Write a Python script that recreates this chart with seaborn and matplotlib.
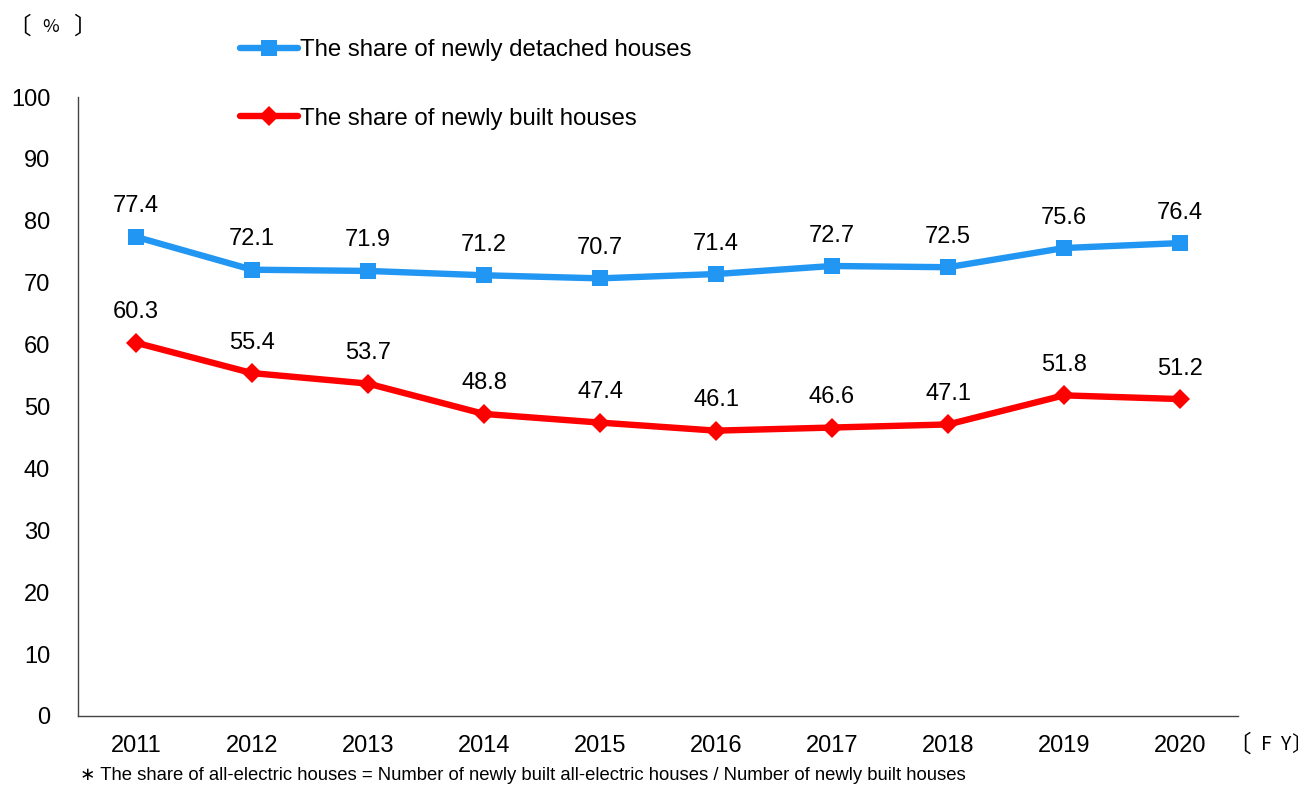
import matplotlib
matplotlib.use("Agg")
import matplotlib.pyplot as plt
import seaborn as sns
import pandas as pd
import numpy as np

years = ["2011", "2012", "2013", "2014", "2015", "2016", "2017", "2018", "2019", "2020"]
detached = [77.4, 72.1, 71.9, 71.2, 70.7, 71.4, 72.7, 72.5, 75.6, 76.4]
built = [60.3, 55.4, 53.7, 48.8, 47.4, 46.1, 46.6, 47.1, 51.8, 51.2]
label_detached = "The share of newly detached houses"
label_built = "The share of newly built houses"
y_ticks = [0, 10, 20, 30, 40, 50, 60, 70, 80, 90, 100]

sns.set_style("white")
plt.rcParams["font.family"] = ["Liberation Sans", "DejaVu Sans"]
plt.rcParams["text.color"] = "black"
plt.rcParams["xtick.color"] = "black"
plt.rcParams["ytick.color"] = "black"

df = pd.DataFrame({"year": years, "pos": np.arange(len(years)),
                   "detached": detached, "built": built})

fig = plt.figure(figsize=(13.12, 7.85), dpi=100)
ax = fig.add_axes([78 / 1312, 1 - 716 / 785, 1160 / 1312, 619 / 785])

blue = "#2196F3"
red = "#FF0000"
sns.lineplot(data=df, x="pos", y="detached", ax=ax, color=blue, lw=4.6,
             marker="s", markersize=12, markeredgewidth=0, label=label_detached)
sns.lineplot(data=df, x="pos", y="built", ax=ax, color=red, lw=4.6,
             marker="D", markersize=10, markeredgewidth=0, label=label_built)

for i in range(len(years)):
    ax.annotate(f"{detached[i]:.1f}", (i, detached[i]), xytext=(0, 14),
                textcoords="offset points", ha="center", va="bottom", fontsize=17)
    ax.annotate(f"{built[i]:.1f}", (i, built[i]), xytext=(0, 14),
                textcoords="offset points", ha="center", va="bottom", fontsize=17)

ax.set_xlim(-0.5, len(years) - 0.5)
ax.set_ylim(0, 100)
ax.set_yticks(y_ticks)
ax.set_yticklabels([str(t) for t in y_ticks], fontsize=17)
ax.set_xticks(np.arange(len(years)))
ax.set_xticklabels(years, fontsize=17)
ax.set_xticks(np.arange(len(years)) + 0.5, minor=True)
ax.tick_params(axis="x", which="major", length=0, pad=14)
ax.tick_params(axis="x", which="minor", length=7, direction="in", color="#444444", width=1)
ax.tick_params(axis="y", which="major", length=7, direction="in", color="#444444", width=1, pad=20)
ax.set_xlabel("")
ax.set_ylabel("")
for s in ["top", "right"]:
    ax.spines[s].set_visible(False)
for s in ["left", "bottom"]:
    ax.spines[s].set_color("#444444")
    ax.spines[s].set_linewidth(1)

ax.legend(loc="upper left", bbox_to_anchor=(240 / 1312, 1 - 39 / 785),
          bbox_transform=fig.transFigure, frameon=False, fontsize=17.3,
          handlelength=2.4, handletextpad=0.1, labelspacing=1.95,
          borderpad=0, borderaxespad=0)

# Unit captions in bracket pairs
cjk = ["Noto Sans CJK JP", "DejaVu Sans"]


def caption(x_px, y_px, s, size, ha="center"):
    fig.text(x_px / 1312, 1 - y_px / 785, s, ha=ha, va="center",
             fontsize=size, family=cjk)


caption(19, 27, "〔", 17)
caption(51, 27, "%", 13)
caption(85, 27, "〕", 17)

caption(1239, 745, "〔", 17)
caption(1266, 745, "F", 14)
caption(1285, 745, "Y", 14)
caption(1312, 745, "〕", 15, ha="right")

fig.text(80 / 1312, 1 - 775 / 785,
         "\u2217 The share of all-electric houses = Number of newly built all-electric houses / Number of newly built houses",
         ha="left", va="center", fontsize=13.3)

fig.savefig("out.png", dpi=100)
